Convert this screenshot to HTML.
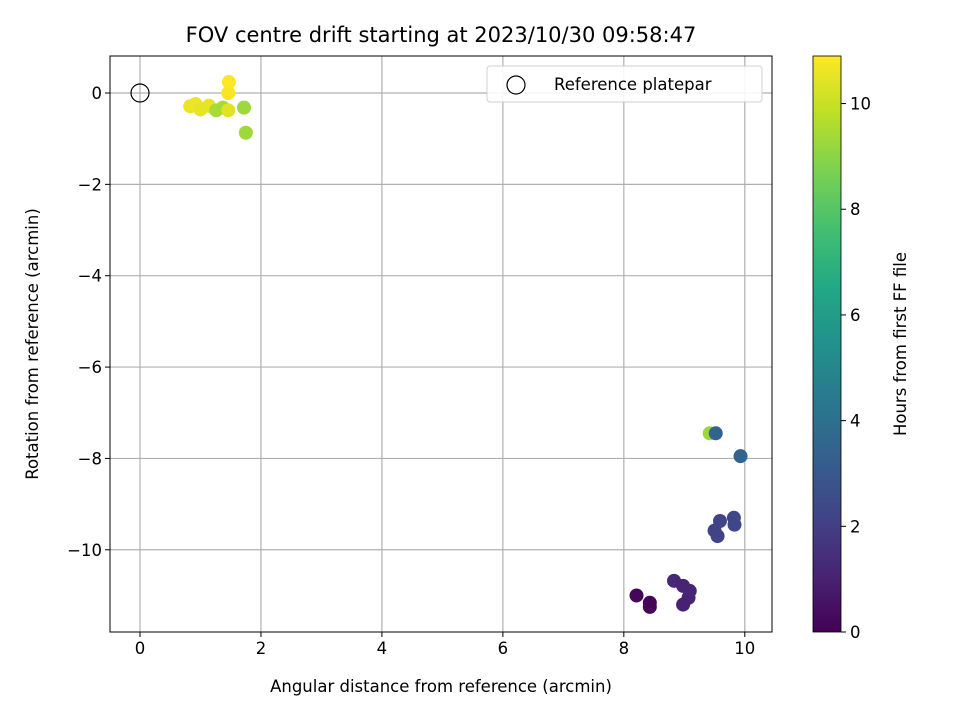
<!DOCTYPE html>
<html><head><meta charset="utf-8"><style>
body{margin:0;background:#fff;font-family:"Liberation Sans","DejaVu Sans",sans-serif;}
svg text{font-family:"DejaVu Sans","Liberation Sans",sans-serif;}
</style></head><body>
<svg id="chart" width="960" height="720" viewBox="0 0 960 720">
<defs><linearGradient id="vir" x1="0" y1="1" x2="0" y2="0">
<stop offset="0" stop-color="#440154"/><stop offset="0.1" stop-color="#482475"/><stop offset="0.2" stop-color="#414487"/><stop offset="0.3" stop-color="#355f8d"/><stop offset="0.4" stop-color="#2a788e"/><stop offset="0.5" stop-color="#21918c"/><stop offset="0.6" stop-color="#22a884"/><stop offset="0.7" stop-color="#44bf70"/><stop offset="0.8" stop-color="#7ad151"/><stop offset="0.9" stop-color="#bddf26"/><stop offset="1" stop-color="#fde725"/></linearGradient></defs>
<text x="441" y="42" font-size="21" text-anchor="middle">FOV centre drift starting at 2023/10/30 09:58:47</text>
<g id="grid"></g><g id="marks"></g><g id="axes"></g>
<text x="441" y="692" font-size="16.5" text-anchor="middle">Angular distance from reference (arcmin)</text>
<text transform="translate(38,344) rotate(-90)" font-size="16.5" text-anchor="middle">Rotation from reference (arcmin)</text>
<g>
<rect x="487" y="66" width="275" height="36" rx="3" fill="#fff" stroke="#ccc" opacity="0.9"/>
<circle cx="516" cy="85" r="9" fill="none" stroke="#000" stroke-width="1.2"/>
<text x="554" y="90" font-size="16.5">Reference platepar</text>
</g>
<rect x="813" y="56" width="28" height="576" fill="url(#vir)" stroke="#000" stroke-width="0.8"/>
<g id="cbticks"></g>
<text transform="translate(906,344) rotate(-90)" font-size="16.5" text-anchor="middle">Hours from first FF file</text>
</svg>
<script>
const xs=[1.47,1.46,0.83,0.92,1.0,1.14,1.26,1.37,1.46,1.72,1.75,9.42,9.52,9.93,9.82,9.83,9.59,9.5,9.55,8.83,8.98,9.09,9.07,8.98,8.21,8.43,8.43];
const ys=[0.24,0.0,-0.29,-0.24,-0.36,-0.28,-0.38,-0.32,-0.38,-0.32,-0.87,-7.45,-7.45,-7.95,-9.3,-9.45,-9.37,-9.58,-9.7,-10.68,-10.79,-10.9,-11.05,-11.2,-11.0,-11.16,-11.25];
const hours=[10.9,10.8,10.6,10.6,10.5,10.5,9.5,9.4,10.4,9.3,9.3,9.2,3.5,3.5,2.3,2.3,2.2,2.1,2.1,1.2,1.1,1.1,1.1,1.0,0.2,0.1,0.1];
const xTicks=[0,2,4,6,8,10];
const yTicks=[0,-2,-4,-6,-8,-10];
const cTicks=[0,2,4,6,8,10];
const L=110,R=772,T=56,B=632,X0=-0.496,X1=10.45,Y0=-11.8,Y1=0.81,CMAX=10.9;
const sx=v=>L+(v-X0)/(X1-X0)*(R-L), sy=v=>B-(v-Y0)/(Y1-Y0)*(B-T), sc=v=>B-v/CMAX*(B-T);
const NS="http://www.w3.org/2000/svg";
function mk(p,t,a){const e=document.createElementNS(NS,t);for(const k in a)e.setAttribute(k,a[k]);p.appendChild(e);return e;}
const stops=[[68,1,84],[72,36,117],[65,68,135],[53,95,141],[42,120,142],[33,145,140],[34,168,132],[68,191,112],[122,209,81],[189,223,38],[253,231,37]];
function vir(v){let t=Math.max(0,Math.min(1,v/CMAX))*10,i=Math.min(9,Math.floor(t)),f=t-i,a=stops[i],b=stops[i+1];return `rgb(${a.map((c,k)=>Math.round(c+(b[k]-c)*f)).join(',')})`;}
const g=document.getElementById('grid'),m=document.getElementById('marks'),ax=document.getElementById('axes'),cb=document.getElementById('cbticks');
xTicks.forEach(v=>{const x=sx(v);
const gl=mk(g,'line',{x1:x,x2:x,y1:T,y2:B,stroke:'#b0b0b0','stroke-width':1.2});


mk(ax,'line',{x1:x,x2:x,y1:B,y2:B+5,stroke:'#000'});
const t=mk(ax,'text',{x:x,y:B+22,'font-size':16.5,'text-anchor':'middle'});t.textContent=v;

});
yTicks.forEach(v=>{const y=sy(v);
const gl=mk(g,'line',{x1:L,x2:R,y1:y,y2:y,stroke:'#b0b0b0','stroke-width':1.2});


mk(ax,'line',{x1:L-5,x2:L,y1:y,y2:y,stroke:'#000'});
const t=mk(ax,'text',{x:L-8,y:y+6,'font-size':16.5,'text-anchor':'end'});t.textContent=v===0?'0':'\u2212'+Math.abs(v);

});
const fr=mk(ax,'rect',{x:L,y:T,width:R-L,height:B-T,fill:'none',stroke:'#000','stroke-width':1});


xs.forEach((v,i)=>{const c=mk(m,'circle',{cx:sx(v),cy:sy(ys[i]),r:7,fill:vir(hours[i])});

});
const ref=mk(m,'circle',{cx:sx(0),cy:sy(0),r:9,fill:'none',stroke:'#000','stroke-width':1.2});


cTicks.forEach(v=>{const y=sc(v);
mk(cb,'line',{x1:841,x2:846,y1:y,y2:y,stroke:'#000'});
const t=mk(cb,'text',{x:850,y:y+6,'font-size':16.5});t.textContent=v;

});
</script>
</body></html>
